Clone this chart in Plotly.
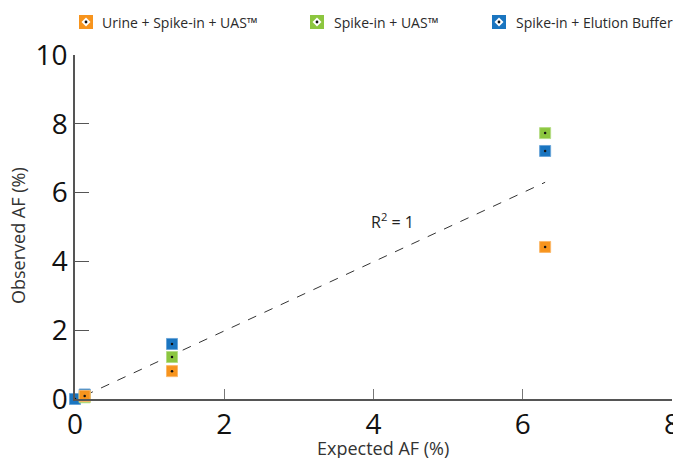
import plotly.graph_objects as go

# ---- data ----
series_names = ["Urine + Spike-in + UAS™", "Spike-in + UAS™", "Spike-in + Elution Buffer"]
series_colors = ["#f7941d", "#8cc63f", "#1a75c0"]
series_borders = ["#fbb86a", "#b5dc85", "#6aa5d8"]

expected_urine = [0.13, 1.3, 6.3]
observed_urine = [0.09, 0.81, 4.42]

expected_spike = [0.13, 1.3, 6.3]
observed_spike = [0.05, 1.22, 7.73]

expected_buffer = [0.0, 0.13, 1.3, 6.3]
observed_buffer = [0.0, 0.13, 1.6, 7.21]

trend_x = [0.13, 6.3]
trend_y = [0.1, 6.3]

x_ticks = [0, 2, 4, 6, 8]
y_ticks = [0, 2, 4, 6, 8, 10]

x_title = "Expected AF (%)"
y_title = "Observed AF (%)"

W, H = 673, 458
ML, MR, MT, MB = 75, 1, 55, 59
PW, PH = W - ML - MR, H - MT - MB

def px(x):
    return (x - ML) / PW

def py(y):
    return (H - MB - y) / PH

fig = go.Figure()

fig.add_trace(go.Scatter(x=trend_x, y=trend_y, mode="lines",
                         line=dict(color="#333333", width=1, dash="dash"),
                         showlegend=False, hoverinfo="skip"))

order = [(expected_buffer, observed_buffer, 2),
         (expected_spike, observed_spike, 1),
         (expected_urine, observed_urine, 0)]
for xs, ys, i in order:
    fig.add_trace(go.Scatter(x=xs, y=ys, mode="markers", name=series_names[i],
                             marker=dict(symbol="square", size=11, color=series_colors[i],
                                         line=dict(color=series_borders[i], width=1)),
                             showlegend=False, cliponaxis=False))
    fig.add_trace(go.Scatter(x=xs, y=ys, mode="markers",
                             marker=dict(symbol="circle", size=2.5, color="#111111"),
                             showlegend=False, hoverinfo="skip", cliponaxis=False))

# custom legend (figure pixel positions)
legend_icon_x = [86, 317, 499]
legend_text_x = [100, 332, 514]
legend_y = 22
shapes = []
annotations = []
for i in range(3):
    cx = legend_icon_x[i]
    s = 7
    shapes.append(dict(type="rect", xref="paper", yref="paper",
                       x0=px(cx - s), x1=px(cx + s), y0=py(legend_y + s), y1=py(legend_y - s),
                       fillcolor=series_colors[i], line=dict(width=0)))
    d = 4.5
    path = "M {} {} L {} {} L {} {} L {} {} Z".format(
        px(cx - d), py(legend_y), px(cx), py(legend_y - d),
        px(cx + d), py(legend_y), px(cx), py(legend_y + d))
    shapes.append(dict(type="path", xref="paper", yref="paper", path=path,
                       fillcolor="white", line=dict(width=0)))
    r = 1.4
    shapes.append(dict(type="circle", xref="paper", yref="paper",
                       x0=px(cx - r), x1=px(cx + r), y0=py(legend_y + r), y1=py(legend_y - r),
                       fillcolor="#111111", line=dict(width=0)))
    annotations.append(dict(text=series_names[i], xref="paper", yref="paper",
                            x=px(legend_text_x[i]), y=py(legend_y), xanchor="left",
                            yanchor="middle", showarrow=False,
                            font=dict(family="Open Sans", size=14, color="#2a2a2a")))

annotations.append(dict(text="R<sup>2</sup> = 1", x=4.25, y=5.17, xref="x", yref="y",
                        showarrow=False, font=dict(family="Open Sans", size=16, color="#222222")))

# axis titles
annotations.append(dict(text=x_title, xref="paper", yref="paper", x=px(383), y=py(448),
                        xanchor="center", yanchor="middle", showarrow=False,
                        font=dict(family="Open Sans", size=18, color="#333333")))
annotations.append(dict(text=y_title, xref="paper", yref="paper", x=px(18), y=py(236),
                        xanchor="center", yanchor="middle", showarrow=False, textangle=-90,
                        font=dict(family="Open Sans", size=18, color="#333333")))

fig.update_layout(
    width=W, height=H,
    margin=dict(l=ML, r=MR, t=MT, b=MB),
    plot_bgcolor="white", paper_bgcolor="white",
    showlegend=False,
    shapes=shapes, annotations=annotations,
    font=dict(family="Open Sans", color="#222222"),
    xaxis=dict(range=[0, 8], tickvals=x_ticks, ticktext=[str(v) for v in x_ticks],
               showgrid=False, zeroline=False, showline=True, linecolor="#555555",
               linewidth=1.5, ticks="inside", ticklen=10, tickcolor="#777777",
               ticklabeloverflow="allow",
               tickfont=dict(size=28, family="Open Sans", color="#111111"),
               automargin=False),
    yaxis=dict(range=[0, 10], tickvals=y_ticks, ticktext=[str(v) for v in y_ticks],
               showgrid=False, zeroline=False, showline=True, linecolor="#555555",
               linewidth=1.5, ticks="inside", ticklen=14, tickcolor="#555555",
               ticklabeloverflow="allow",
               tickfont=dict(size=28, family="Open Sans", color="#111111"),
               automargin=False),
)

fig.write_html("out.html", config={"displayModeBar": False},
               post_script="document.body.style.margin='0';document.body.style.overflow='hidden';")
